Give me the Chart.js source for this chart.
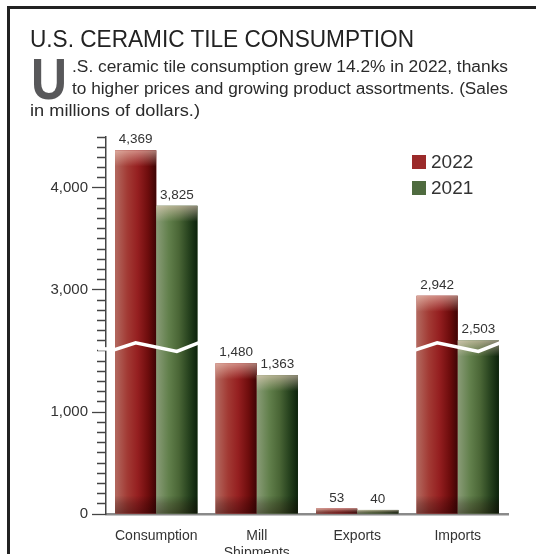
<!DOCTYPE html>
<html>
<head>
<meta charset="utf-8">
<script src="https://cdn.jsdelivr.net/npm/chart.js@4.4.1/dist/chart.umd.min.js"></script>
<style>
html, body { margin: 0; padding: 0; background: #fff; }
#wrap { position: relative; width: 536px; height: 554px; overflow: hidden; font-family: "Liberation Sans", Arial, sans-serif; color: #2a2a2a; }
#frame { position: absolute; left: 7px; top: 6px; width: 700px; height: 700px; border: 3px solid #222; }
canvas { position: absolute; left: 0; top: 0; }
.fit { position: absolute; white-space: nowrap; transform-origin: 0 0; }
#title { left: 30px; top: 27px; font-size: 24px; line-height: 24px; color: #222; }
#dropcap { left: 31px; top: 50px; font-size: 58px; line-height: 58px; font-weight: bold; color: #58585a; }
.line { font-size: 16px; line-height: 16px; }
#line1 { left: 72px; top: 59px; }
#line2 { left: 72px; top: 81px; }
#line3 { left: 30px; top: 103px; }
.legend { position: absolute; left: 412px; font-size: 19px; line-height: 19px; color: #333; }
.legend span { display: inline-block; width: 14px; height: 14px; margin-right: 5px; vertical-align: -1px; }
</style>
</head>
<body>
<div id="wrap">
  <div id="frame"></div>
  <canvas id="tileChart" width="536" height="554"></canvas>
  <div id="title" class="fit" data-w="384">U.S. CERAMIC TILE CONSUMPTION</div>
  <div id="dropcap" class="fit" data-w="36">U</div>
  <div id="line1" class="fit line" data-w="436">.S. ceramic tile consumption grew 14.2% in 2022, thanks</div>
  <div id="line2" class="fit line" data-w="436">to higher prices and growing product assortments. (Sales</div>
  <div id="line3" class="fit line" data-w="170">in millions of dollars.)</div>
  <div id="legend"></div>
</div>
<script>
// chart data (sales in millions of dollars)
const categories = ['Consumption', ['Mill', 'Shipments'], 'Exports', 'Imports'];
const seriesNames = ['2022', '2021'];
const sales2022 = [4369, 1480, 53, 2942];
const sales2021 = [3825, 1363, 40, 2503];
const yLabelValues = [0, 1000, 3000, 4000];

// broken axis: 1,640 to 2,440 is cut out
const breakLow = 1640;
const breakHigh = 2440;
const cut = breakHigh - breakLow;
const toAxis = v => v > breakLow ? v - cut : v;
const fromAxis = v => v > breakLow ? v + cut : v;

const seriesColors = ['#9b2a2a', '#4f6b3f'];
const shades = [
    ['#b36a60', '#a23a34', '#951f20', '#6e0d0d', '#3e0505'],
    ['#8a9c78', '#62804c', '#4a6636', '#25401d', '#0c220c']
];

// tick marks every 100 on both sides of the break
const axisTicks = [];
for (let v = 0; v <= 1600; v += 100) axisTicks.push(v);
for (let v = 2500; v <= 4500; v += 100) axisTicks.push(toAxis(v));

const fmt = v => v.toLocaleString('en-US');

// squeeze html text lines to the widths in the reference
document.querySelectorAll('.fit').forEach(el => {
    const w = el.getBoundingClientRect().width;
    el.style.transform = 'scaleX(' + (parseFloat(el.dataset.w) / w) + ')';
});

// legend
const legend = document.getElementById('legend');
seriesNames.forEach((name, i) => {
    const row = document.createElement('div');
    row.className = 'legend';
    row.style.top = (152 + i * 26) + 'px';
    row.innerHTML = '<span style="background:' + seriesColors[i] + '"></span>' + name;
    legend.appendChild(row);
});

const shadeBars = {
    id: 'shadeBars',
    afterDatasetsDraw(chart) {
        const ctx = chart.ctx;
        chart.data.datasets.forEach((ds, d) => {
            chart.getDatasetMeta(d).data.forEach(bar => {
                const { x, y, base, width } = bar.getProps(['x', 'y', 'base', 'width'], true);
                const l = x - width / 2, h = base - y;
                const g = ctx.createLinearGradient(l, 0, l + width, 0);
                const s = shades[d];
                g.addColorStop(0, s[0]);
                g.addColorStop(0.3, s[1]);
                g.addColorStop(0.55, s[2]);
                g.addColorStop(0.8, s[3]);
                g.addColorStop(1, s[4]);
                ctx.save();
                ctx.fillStyle = g;
                ctx.fillRect(l, y, width, h);
                // light cap at the top
                const capH = Math.min(16, h);
                const tg = ctx.createLinearGradient(0, y, 0, y + capH);
                tg.addColorStop(0, 'rgba(255,225,210,0.55)');
                tg.addColorStop(0.35, 'rgba(255,225,210,0.35)');
                tg.addColorStop(1, 'rgba(255,225,210,0)');
                ctx.fillStyle = tg;
                ctx.fillRect(l, y, width, capH);
                // dark foot at the base
                const footH = Math.min(18, h);
                const bg = ctx.createLinearGradient(0, base - footH, 0, base);
                bg.addColorStop(0, 'rgba(0,0,0,0)');
                bg.addColorStop(0.45, 'rgba(20,0,0,0.22)');
                bg.addColorStop(1, 'rgba(20,0,0,0.38)');
                ctx.fillStyle = bg;
                ctx.fillRect(l, base - footH, width, footH);
                ctx.restore();
            });
        });
    }
};

const barLabels = {
    id: 'barLabels',
    afterDatasetsDraw(chart) {
        const ctx = chart.ctx;
        ctx.save();
        ctx.font = '13.5px "Liberation Sans", Arial, sans-serif';
        ctx.fillStyle = '#333';
        ctx.textAlign = 'center';
        ctx.textBaseline = 'bottom';
        chart.data.datasets.forEach((ds, d) => {
            chart.getDatasetMeta(d).data.forEach((bar, i) => {
                ctx.fillText(fmt(ds.realValues[i]), bar.x, bar.y - 4);
            });
        });
        ctx.restore();
    }
};

const axisBreak = {
    id: 'axisBreak',
    afterDatasetsDraw(chart) {
        const ctx = chart.ctx;
        const yScale = chart.scales.y;
        const yb = yScale.getPixelForValue(breakLow);
        ctx.save();
        ctx.strokeStyle = '#fff';
        ctx.lineWidth = 3.5;
        ctx.lineJoin = 'miter';
        // gap in the axis line
        ctx.beginPath();
        ctx.moveTo(yScale.right - 8, yb + 2);
        ctx.lineTo(yScale.right + 4, yb + 2);
        ctx.stroke();
        categories.forEach((c, i) => {
            if (Math.min(sales2022[i], sales2021[i]) <= breakLow) return;
            const a = chart.getDatasetMeta(0).data[i];
            const b = chart.getDatasetMeta(1).data[i];
            ctx.beginPath();
            ctx.moveTo(a.x - a.width / 2 - 1, yb + 3);
            ctx.lineTo(a.x, yb - 4);
            ctx.lineTo(b.x, yb + 4.5);
            ctx.lineTo(b.x + b.width / 2 + 1, yb - 4);
            ctx.stroke();
        });
        ctx.restore();
    }
};

const isMajor = v => yLabelValues.includes(fromAxis(v));

new Chart(document.getElementById('tileChart'), {
    type: 'bar',
    data: {
        labels: categories,
        datasets: [
            { label: seriesNames[0], data: sales2022.map(toAxis), realValues: sales2022, backgroundColor: seriesColors[0] },
            { label: seriesNames[1], data: sales2021.map(toAxis), realValues: sales2021, backgroundColor: seriesColors[1] }
        ]
    },
    options: {
        responsive: false,
        animation: false,
        layout: { padding: { top: 137, right: 28, bottom: 0, left: 0 } },
        datasets: { bar: { categoryPercentage: 0.82, barPercentage: 1 } },
        plugins: {
            legend: { display: false },
            tooltip: { enabled: false }
        },
        scales: {
            x: {
                grid: { display: false },
                border: { display: true, color: '#8a8a8a', width: 2.5 },
                ticks: {
                    color: '#333',
                    padding: 6,
                    font: { family: '"Liberation Sans", Arial, sans-serif', size: 14 }
                },
                afterFit: s => { s.height = 40; }
            },
            y: {
                min: 0,
                max: toAxis(4500),
                afterBuildTicks: s => { s.ticks = axisTicks.map(v => ({ value: v })); },
                afterFit: s => { s.width = 106; },
                grid: {
                    drawOnChartArea: false,
                    tickLength: 14,
                    tickColor: '#444',
                    tickWidth: 1.3,
                    tickBorderDash: c => isMajor(c.tick.value) ? [] : [0, 5, 20]
                },
                border: { display: true, color: '#444', width: 1.5 },
                ticks: {
                    autoSkip: false,
                    padding: 4,
                    color: '#333',
                    font: { family: '"Liberation Sans", Arial, sans-serif', size: 15 },
                    callback: v => isMajor(v) ? fmt(fromAxis(v)) : ''
                }
            }
        }
    },
    plugins: [shadeBars, barLabels, axisBreak]
});
</script>
</body>
</html>
